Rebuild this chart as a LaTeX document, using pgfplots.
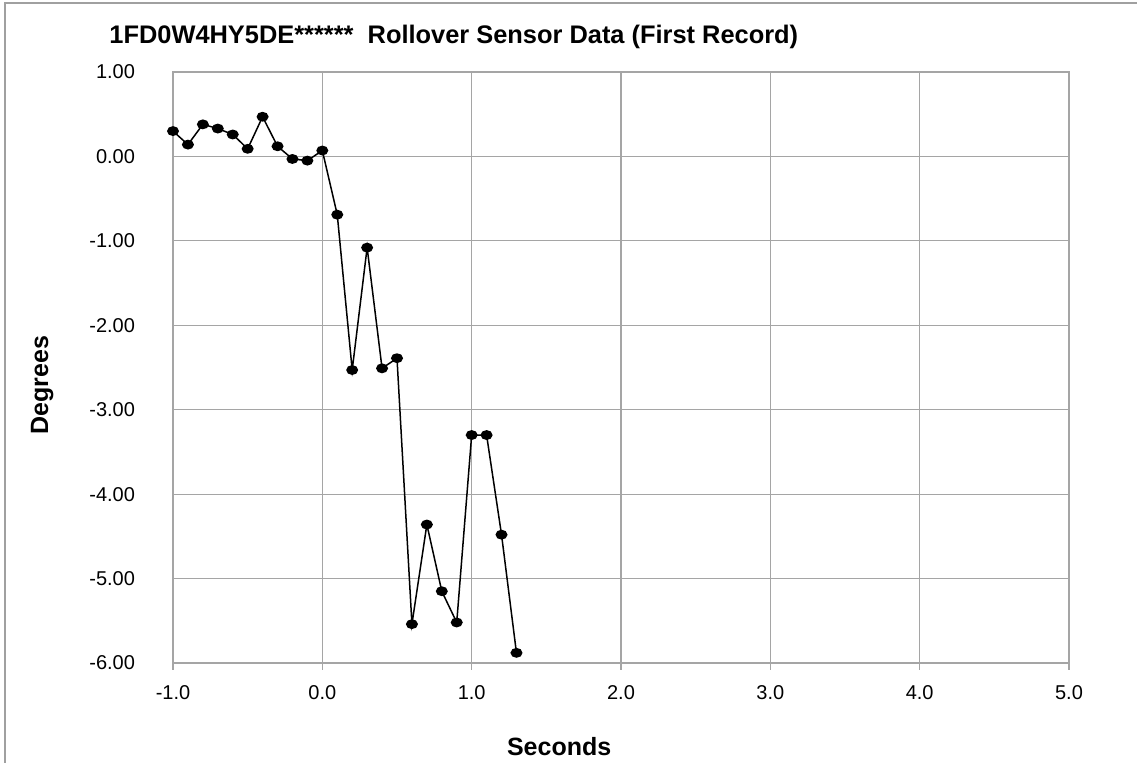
\documentclass[border=0pt]{standalone}
\usepackage{fontspec}
\setmainfont{Liberation Sans}
\usepackage{pgfplots}
\pgfplotsset{compat=1.18}
\definecolor{gridgray}{RGB}{165,165,165}
\definecolor{framegray}{RGB}{160,160,160}

\begin{document}
\begin{tikzpicture}
\useasboundingbox (0,0) rectangle (568.5pt,381.5pt);
% chart area frame (only left and top edges show)
\draw[framegray, line width=1pt] (2.5pt,-10pt) |- (600pt,379.8pt);
\begin{axis}[
  at={(86.5pt,50pt)}, anchor=south west,
  scale only axis, width=448pt, height=295.5pt,
  xmin=-1, xmax=5, ymin=-6, ymax=1,
  xtick={-1,0,...,5}, ytick={-6,-5,...,1},
  tick pos=left, tick align=outside,
  major tick length=3.5pt,
  xtick style={draw=gridgray, line width=0.6pt},
  ytick style={draw=none},
  axis line style={draw=gridgray, line width=0.6pt},
  grid=major, grid style={gridgray, line width=0.6pt},
  /pgf/number format/assume math mode=true,
  xticklabel style={/pgf/number format/fixed, /pgf/number format/fixed zerofill,
    /pgf/number format/precision=1, yshift=-4pt},
  yticklabel style={/pgf/number format/fixed, /pgf/number format/fixed zerofill,
    /pgf/number format/precision=2, xshift=-12pt},
  ticklabel style={font=\fontsize{10}{12}\selectfont},
  xlabel={Seconds}, ylabel={Degrees},
  every axis x label/.style={at={(axis description cs:0.431,-0.142)}, anchor=center,
    font=\bfseries\fontsize{12.5}{14}\selectfont},
  every axis y label/.style={at={(axis description cs:-0.146,0.47)}, anchor=center, rotate=90,
    font=\bfseries\fontsize{12.5}{14}\selectfont},
  title={1FD0W4HY5DE******\ \ Rollover Sensor Data (First Record)},
  every axis title/.style={at={(axis description cs:-0.0714,1.049)}, anchor=base west,
    inner sep=0pt, font=\bfseries\fontsize{12.7}{14}\selectfont},
]
\addplot[black, line width=0.75pt, mark=*, mark size=2.6pt,
  mark options={yscale=0.8, fill=black}] coordinates {
  (-1.0,0.30)(-0.9,0.14)(-0.8,0.38)(-0.7,0.33)(-0.6,0.26)(-0.5,0.09)
  (-0.4,0.47)(-0.3,0.12)(-0.2,-0.03)(-0.1,-0.05)(0.0,0.07)(0.1,-0.69)
  (0.2,-2.53)(0.3,-1.08)(0.4,-2.51)(0.5,-2.39)(0.6,-5.54)(0.7,-4.36)
  (0.8,-5.15)(0.9,-5.52)(1.0,-3.30)(1.1,-3.30)(1.2,-4.48)(1.3,-5.88)
};
\end{axis}
\end{tikzpicture}
\end{document}
